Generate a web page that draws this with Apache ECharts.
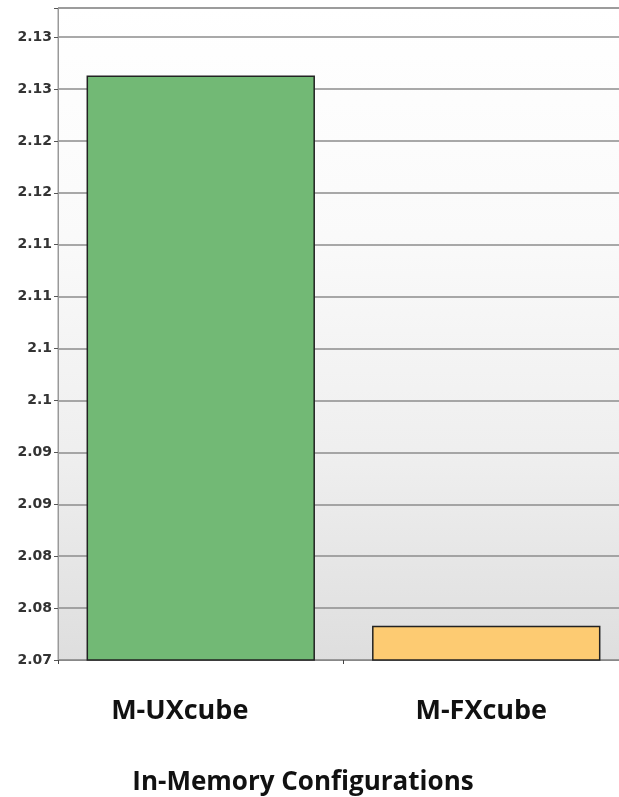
<!DOCTYPE html>
<html>
<head>
<meta charset="utf-8">
<script src="https://cdn.jsdelivr.net/npm/echarts@6/dist/echarts.min.js"></script>
<style>
  html, body { margin: 0; padding: 0; background: #fff; }
  #chart { width: 619px; height: 797px; }
</style>
</head>
<body>
<div id="chart"></div>
<script>
// 配置名
const categories = ['M-UXcube', 'M-FXcube'];
// 柱子数值
const values = [2.1263, 2.0733];
const barColors = ['#72B975', '#FDCB72'];
// y轴刻度文字（原图四舍五入到两位）
const tickLabels = ['2.07', '2.08', '2.08', '2.09', '2.09', '2.1', '2.1',
  '2.11', '2.11', '2.12', '2.12', '2.13', '2.13'];
const yMin = 2.07;
const yMax = 2.1328;
const yStep = 0.005;

const chart = echarts.init(document.getElementById('chart'));

const option = {
  animation: false,
  title: {
    text: 'In-Memory Configurations',
    left: 298,
    top: 765,
    textAlign: 'center',
    textStyle: {
      fontFamily: 'Open Sans',
      fontWeight: 'bold',
      fontSize: 26,
      color: '#111'
    }
  },
  grid: {
    left: 58,
    top: 8,
    width: 571,
    bottom: 137,
    outerBoundsMode: 'none',
    containLabel: false,
    show: true,
    borderColor: '#9a9a9a',
    borderWidth: 1,
    backgroundColor: new echarts.graphic.LinearGradient(0, 0, 0, 1, [
      { offset: 0, color: '#ffffff' },
      { offset: 0.35, color: '#fafafa' },
      { offset: 0.7, color: '#eeeeee' },
      { offset: 1, color: '#dedede' }
    ])
  },
  xAxis: {
    type: 'category',
    data: categories,
    axisLine: { lineStyle: { color: '#888', width: 1 } },
    axisTick: { show: true, length: 4, lineStyle: { color: '#444' } },
    axisLabel: {
      margin: 38,
      fontFamily: 'Open Sans',
      fontWeight: 'bold',
      fontSize: 27,
      color: '#111',
      // 原图标签略微偏左
      formatter: function (v, i) {
        return (i === 0 ? '{a|' : '{b|') + v + '}';
      },
      rich: {
        a: { fontFamily: 'Open Sans', fontWeight: 'bold', fontSize: 27, color: '#111', padding: [0, 42, 0, 0] },
        b: { fontFamily: 'Open Sans', fontWeight: 'bold', fontSize: 27, color: '#111', padding: [0, 10, 0, 0] }
      }
    }
  },
  yAxis: {
    type: 'value',
    min: yMin,
    max: yMax,
    interval: yStep,
    axisLine: { show: true, lineStyle: { color: '#999' } },
    axisTick: { show: true, length: 4, lineStyle: { color: '#555' } },
    axisLabel: {
      margin: 6,
      fontFamily: 'DejaVu Sans',
      fontWeight: 'bold',
      fontSize: 14,
      color: '#333',
      formatter: function (v) {
        const k = (v - yMin) / yStep;
        const i = Math.round(k);
        if (Math.abs(k - i) > 0.01) return '';
        return tickLabels[i] || '';
      }
    },
    splitLine: { show: true, lineStyle: { color: '#8c8c8c', width: 1.5 } }
  },
  series: [{
    type: 'bar',
    barWidth: '80%',
    data: values.map((v, i) => ({
      value: v,
      itemStyle: {
        color: barColors[i],
        borderColor: '#222',
        borderWidth: 1.5
      }
    }))
  }]
};

chart.setOption(option);
</script>
</body>
</html>
